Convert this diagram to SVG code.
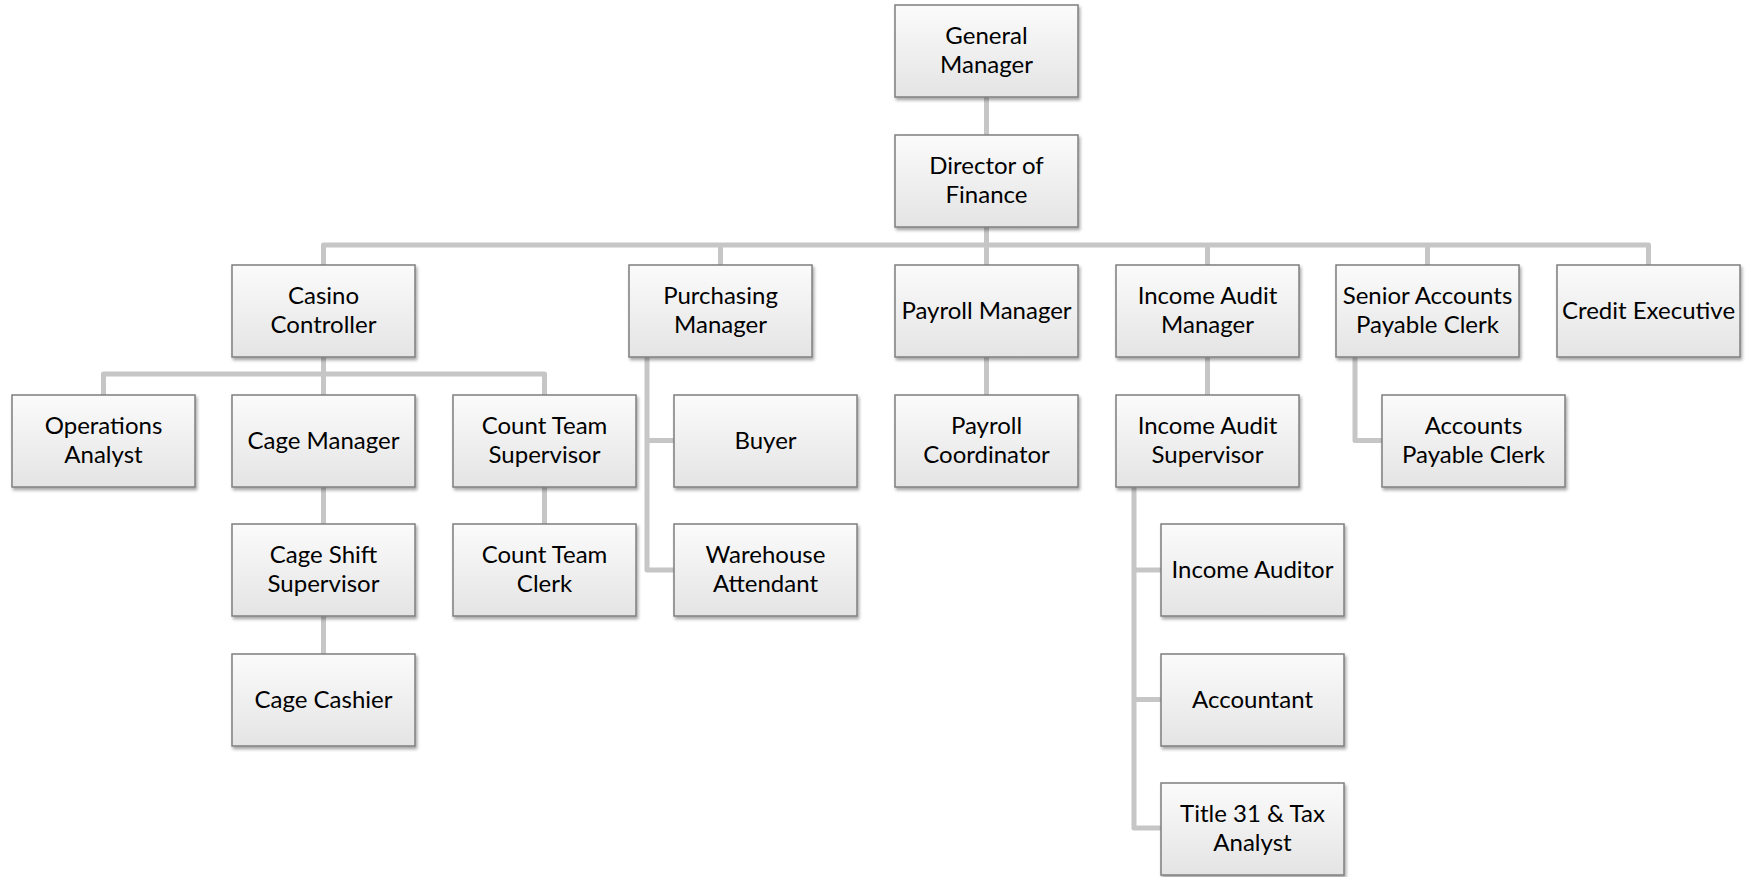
<svg xmlns="http://www.w3.org/2000/svg" width="1756" height="877" viewBox="0 0 1756 877">
<defs>
<linearGradient id="bg" x1="0" y1="0" x2="0" y2="1">
<stop offset="0" stop-color="#fbfbfb"/>
<stop offset="1" stop-color="#e4e4e4"/>
</linearGradient>
<filter id="sh" x="-10%" y="-10%" width="125%" height="130%">
<feDropShadow dx="1.5" dy="2.5" stdDeviation="1.8" flood-color="#000" flood-opacity="0.35"/>
</filter>
</defs>
<style>
.b{fill:url(#bg);stroke:#7f7f7f;stroke-width:1.5;filter:url(#sh)}
.t{font-family:Lato,"Liberation Sans",sans-serif;font-size:24px;fill:#000;text-anchor:middle}
.c{fill:none;stroke:#c6c6c6;stroke-width:5;stroke-linejoin:round}
</style>
<rect width="1756" height="877" fill="#fff"/>
<g id="connectors">
<path class="c" d="M986.5 97V135"/>
<path class="c" d="M986.5 227V245"/>
<path class="c" d="M323.5 265V245H1648.5V265"/>
<path class="c" d="M720.5 245V265"/>
<path class="c" d="M986.5 245V265"/>
<path class="c" d="M1207.5 245V265"/>
<path class="c" d="M1427.5 245V265"/>
<path class="c" d="M323.5 357V395"/>
<path class="c" d="M103.5 395V374H544.5V395"/>
<path class="c" d="M323.5 487V524"/>
<path class="c" d="M323.5 616V654"/>
<path class="c" d="M544.5 487V524"/>
<path class="c" d="M647 357V570H674"/>
<path class="c" d="M647 440.5H674"/>
<path class="c" d="M986.5 357V395"/>
<path class="c" d="M1207.5 357V395"/>
<path class="c" d="M1134 487V828H1161"/>
<path class="c" d="M1134 570H1161"/>
<path class="c" d="M1134 699.5H1161"/>
<path class="c" d="M1355 357V440.5H1382"/>
</g>
<g id="gm"><rect class="b" x="895" y="5" width="183" height="92"/><text class="t" x="986.5" y="44">General</text><text class="t" x="986.5" y="73">Manager</text></g>
<g id="dof"><rect class="b" x="895" y="135" width="183" height="92"/><text class="t" x="986.5" y="174">Director of</text><text class="t" x="986.5" y="203">Finance</text></g>
<g id="casino"><rect class="b" x="232" y="265" width="183" height="92"/><text class="t" x="323.5" y="304">Casino</text><text class="t" x="323.5" y="333">Controller</text></g>
<g id="purchasing"><rect class="b" x="629" y="265" width="183" height="92"/><text class="t" x="720.5" y="304">Purchasing</text><text class="t" x="720.5" y="333">Manager</text></g>
<g id="payroll"><rect class="b" x="895" y="265" width="183" height="92"/><text class="t" x="986.5" y="319">Payroll Manager</text></g>
<g id="incomeaudit"><rect class="b" x="1116" y="265" width="183" height="92"/><text class="t" x="1207.5" y="304">Income Audit</text><text class="t" x="1207.5" y="333">Manager</text></g>
<g id="seniorap"><rect class="b" x="1336" y="265" width="183" height="92"/><text class="t" x="1427.5" y="304">Senior Accounts</text><text class="t" x="1427.5" y="333">Payable Clerk</text></g>
<g id="credit"><rect class="b" x="1557" y="265" width="183" height="92"/><text class="t" x="1648.5" y="319">Credit Executive</text></g>
<g id="ops"><rect class="b" x="12" y="395" width="183" height="92"/><text class="t" x="103.5" y="434">Operations</text><text class="t" x="103.5" y="463">Analyst</text></g>
<g id="cagemgr"><rect class="b" x="232" y="395" width="183" height="92"/><text class="t" x="323.5" y="449">Cage Manager</text></g>
<g id="countsup"><rect class="b" x="453" y="395" width="183" height="92"/><text class="t" x="544.5" y="434">Count Team</text><text class="t" x="544.5" y="463">Supervisor</text></g>
<g id="buyer"><rect class="b" x="674" y="395" width="183" height="92"/><text class="t" x="765.5" y="449">Buyer</text></g>
<g id="payrollcoord"><rect class="b" x="895" y="395" width="183" height="92"/><text class="t" x="986.5" y="434">Payroll</text><text class="t" x="986.5" y="463">Coordinator</text></g>
<g id="incomesup"><rect class="b" x="1116" y="395" width="183" height="92"/><text class="t" x="1207.5" y="434">Income Audit</text><text class="t" x="1207.5" y="463">Supervisor</text></g>
<g id="apclerk"><rect class="b" x="1382" y="395" width="183" height="92"/><text class="t" x="1473.5" y="434">Accounts</text><text class="t" x="1473.5" y="463">Payable Clerk</text></g>
<g id="cageshift"><rect class="b" x="232" y="524" width="183" height="92"/><text class="t" x="323.5" y="563">Cage Shift</text><text class="t" x="323.5" y="592">Supervisor</text></g>
<g id="countclerk"><rect class="b" x="453" y="524" width="183" height="92"/><text class="t" x="544.5" y="563">Count Team</text><text class="t" x="544.5" y="592">Clerk</text></g>
<g id="warehouse"><rect class="b" x="674" y="524" width="183" height="92"/><text class="t" x="765.5" y="563">Warehouse</text><text class="t" x="765.5" y="592">Attendant</text></g>
<g id="incomeauditor"><rect class="b" x="1161" y="524" width="183" height="92"/><text class="t" x="1252.5" y="578">Income Auditor</text></g>
<g id="cashier"><rect class="b" x="232" y="654" width="183" height="92"/><text class="t" x="323.5" y="708">Cage Cashier</text></g>
<g id="accountant"><rect class="b" x="1161" y="654" width="183" height="92"/><text class="t" x="1252.5" y="708">Accountant</text></g>
<g id="title31"><rect class="b" x="1161" y="783" width="183" height="92"/><text class="t" x="1252.5" y="822">Title 31 &amp; Tax</text><text class="t" x="1252.5" y="851">Analyst</text></g>
</svg>
